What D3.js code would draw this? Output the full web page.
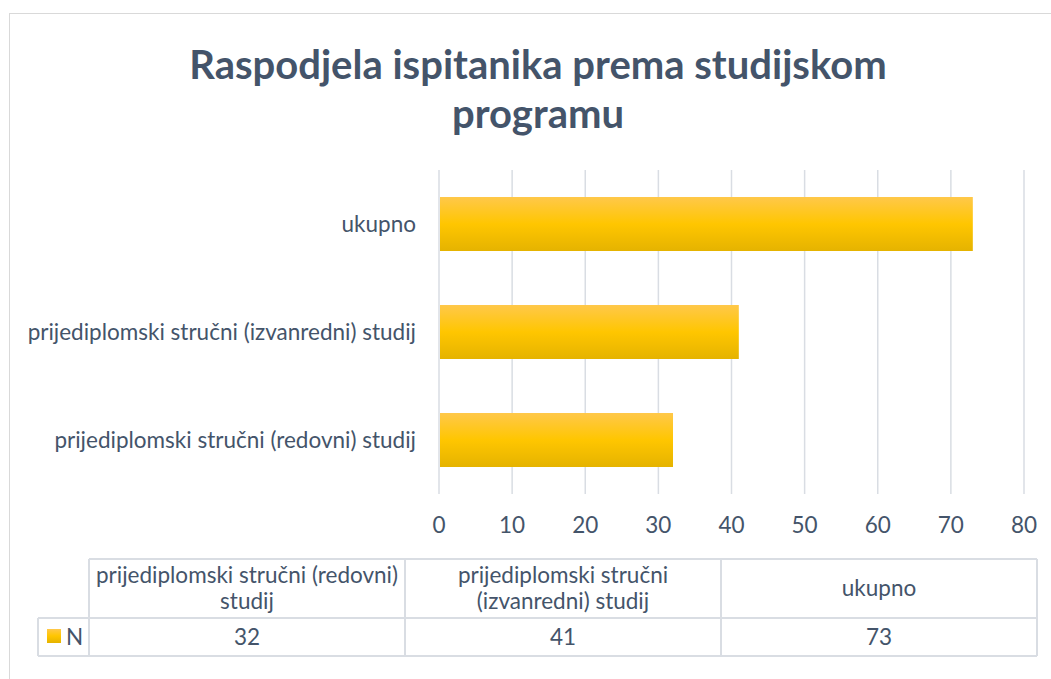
<!DOCTYPE html>
<html><head><meta charset="utf-8">
<script src="https://cdn.jsdelivr.net/npm/d3@7"></script>
<style>body{margin:0;background:#fff}svg{display:block}text{font-family:Lato,"Open Sans",sans-serif;fill:#44546a}</style>
</head><body><svg id="c" width="1051" height="679"></svg>
<script>
const categories = ["prijediplomski stručni (redovni) studij","prijediplomski stručni (izvanredni) studij","ukupno"];
const values = [32, 41, 73];
const tableHeaders = [["prijediplomski stručni (redovni)","studij"],["prijediplomski stručni","(izvanredni) studij"],["ukupno"]];
const ticks = [0,10,20,30,40,50,60,70,80];
const seriesName = "N";
const titleLines = ["Raspodjela ispitanika prema studijskom","programu"];

const svg = d3.select("#c");
const defs = svg.append("defs");
const g = defs.append("linearGradient").attr("id","gold").attr("x1",0).attr("y1",0).attr("x2",0).attr("y2",1);
g.append("stop").attr("offset","0%").attr("stop-color","#ffc84a");
g.append("stop").attr("offset","50%").attr("stop-color","#ffc600");
g.append("stop").attr("offset","100%").attr("stop-color","#e5b300");

const FS = "22.5px";

// outer frame
svg.append("rect").attr("x",9.5).attr("y",13.5).attr("width",1060).attr("height",700).attr("fill","none").attr("stroke","#d9d9d9").attr("stroke-width",1);

// title
svg.append("g").selectAll("text").data(titleLines).join("text")
  .attr("x",538).attr("y",(d,i)=>79+i*49).attr("text-anchor","middle")
  .style("font-size","40px").style("font-weight","bold").text(d=>d);

const x = d3.scaleLinear().domain([0,80]).range([439,1024]);
const y = d3.scaleBand().domain(categories.slice().reverse()).range([170,494]).paddingInner(0.5).paddingOuter(0.25);

// grid
svg.append("g").selectAll("line").data(ticks).join("line")
  .attr("x1",d=>x(d)).attr("x2",d=>x(d)).attr("y1",170).attr("y2",494)
  .attr("stroke","#d9dde3").attr("stroke-width",1.5);

// bars
svg.append("g").selectAll("rect").data(categories).join("rect")
  .attr("x",x(0)+1).attr("y",d=>y(d)).attr("height",y.bandwidth())
  .attr("width",(d,i)=>x(values[i])-x(0)-1).attr("fill","url(#gold)");

// category labels
svg.append("g").selectAll("text").data(categories).join("text")
  .attr("x",416).attr("y",d=>y(d)+y.bandwidth()/2).attr("dy","0.35em").attr("text-anchor","end")
  .style("font-size",FS).text(d=>d);

// tick labels
svg.append("g").selectAll("text").data(ticks).join("text")
  .attr("x",d=>x(d)).attr("y",525).attr("dy","0.35em").attr("text-anchor","middle")
  .style("font-size",FS).text(d=>d);

// data table
const tc = "#d9dde3";
const colX = [89,405,721,1037];
const tTop=559, tMid=618, tBot=656;
const T = svg.append("g").attr("stroke",tc).attr("stroke-width",2).attr("fill","none");
T.append("line").attr("x1",89).attr("x2",1037).attr("y1",tTop).attr("y2",tTop);
T.append("line").attr("x1",38).attr("x2",1037).attr("y1",tMid).attr("y2",tMid);
T.append("line").attr("x1",38).attr("x2",1037).attr("y1",tBot).attr("y2",tBot);
T.append("line").attr("x1",38).attr("x2",38).attr("y1",tMid).attr("y2",tBot);
T.selectAll(".v").data(colX).join("line").attr("x1",d=>d).attr("x2",d=>d).attr("y1",tTop).attr("y2",tBot);

tableHeaders.forEach((lines,i)=>{
  const cx=(colX[i]+colX[i+1])/2;
  const cy=(tTop+tMid)/2;
  const lh=26;
  svg.append("g").selectAll("text").data(lines).join("text")
    .attr("x",cx).attr("y",(d,j)=>cy+(j-(lines.length-1)/2)*lh).attr("dy","0.35em").attr("text-anchor","middle")
    .style("font-size",FS).text(d=>d);
});
svg.append("g").selectAll("text").data(values).join("text")
  .attr("x",(d,i)=>(colX[i]+colX[i+1])/2).attr("y",(tMid+tBot)/2).attr("dy","0.35em").attr("text-anchor","middle")
  .style("font-size",FS).text(d=>d);
svg.append("rect").attr("x",47).attr("y",629).attr("width",14).attr("height",14).attr("fill","url(#gold)");
svg.append("text").attr("x",66).attr("y",(tMid+tBot)/2).attr("dy","0.35em").style("font-size",FS).text(seriesName);
</script></body></html>
